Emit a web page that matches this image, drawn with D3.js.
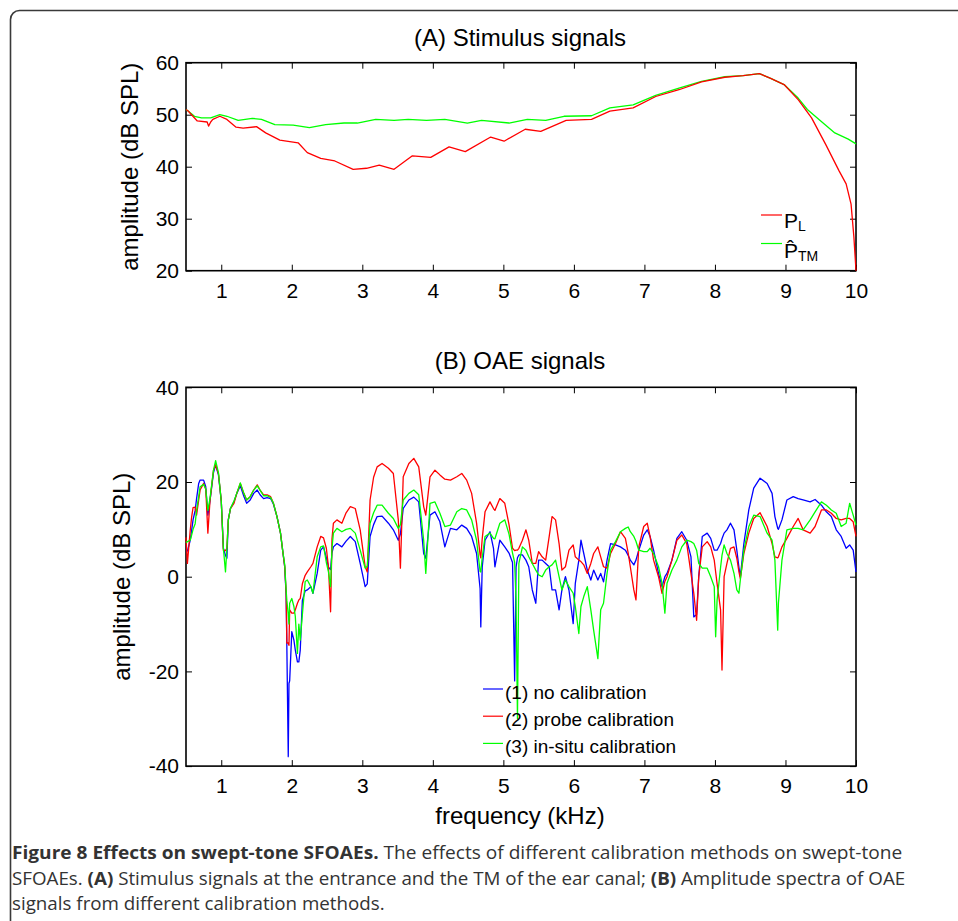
<!DOCTYPE html>
<html>
<head>
<meta charset="utf-8">
<script src="https://cdn.jsdelivr.net/npm/d3@7"></script>
<style>
  html, body { margin: 0; padding: 0; background: #fff; }
  svg { display: block; }
</style>
</head>
<body>
<svg id="chart" width="958" height="921"></svg>
<script>
// ---------------- DATA ----------------
const xTicks = [1, 2, 3, 4, 5, 6, 7, 8, 9, 10];
const yTicksA = [20, 30, 40, 50, 60];
const yTicksB = [-40, -20, 0, 20, 40];

// Panel A: stimulus signals
const freqL = [0.5,0.53,0.66,0.80,0.82,0.85,0.88,0.98,1.08,1.21,1.31,1.50,1.63,1.83,2.09,2.22,2.41,2.61,2.87,3.06,3.24,3.45,3.71,3.97,4.23,4.46,4.82,5.01,5.31,5.53,5.89,6.25,6.51,6.84,7.16,7.49,7.81,8.14,8.40,8.63,8.79,8.98,9.18,9.37,9.57,9.76,9.86,9.93,9.97,10.0];
const ampL  = [51.0,50.7,48.8,48.6,47.8,48.6,49.1,49.7,49.1,47.6,47.4,47.7,46.5,45.1,44.6,42.7,41.6,41.1,39.5,39.7,40.3,39.5,42.1,41.8,43.8,42.9,45.7,44.9,47.2,46.8,48.9,49.1,50.7,51.3,53.5,54.8,56.3,57.2,57.5,57.9,57.0,55.8,52.9,49.4,44.3,39.2,36.7,32.8,26.5,20];
const freqTM = [0.5,0.53,0.62,0.72,0.85,0.98,1.08,1.24,1.44,1.57,1.76,2.02,2.25,2.48,2.74,2.93,3.19,3.45,3.65,3.91,4.17,4.49,4.69,5.08,5.34,5.60,5.86,6.25,6.51,6.84,7.16,7.49,7.81,8.14,8.40,8.63,8.79,8.98,9.18,9.31,9.50,9.70,9.89,10.0];
const ampTM  = [51.0,50.7,49.7,49.4,49.4,50.0,49.7,48.9,49.3,49.1,48.1,48.0,47.5,48.1,48.4,48.4,49.1,48.9,49.1,48.9,49.1,48.4,48.9,48.4,49.1,48.9,49.7,49.8,51.3,51.9,53.7,55.1,56.4,57.3,57.5,57.9,57.0,55.8,53.2,51.0,48.8,46.5,45.3,44.4];

// Panel B: OAE signals
const freqB = [0.50,0.52,0.56,0.58,0.60,0.63,0.65,0.68,0.70,0.75,0.78,0.81,0.84,0.89,0.92,0.96,1.00,1.03,1.06,1.08,1.10,1.13,1.18,1.22,1.27,1.32,1.36,1.41,1.46,1.51,1.55,1.60,1.65,1.70,1.74,1.79,1.84,1.87,1.90,1.92,1.93,1.95,1.96,1.97,2.00,2.03,2.05,2.08,2.10,2.12,2.15,2.19,2.22,2.27,2.30,2.36,2.41,2.45,2.49,2.52,2.55,2.57,2.59,2.64,2.71,2.77,2.83,2.90,2.97,3.04,3.07,3.11,3.16,3.21,3.28,3.37,3.44,3.51,3.54,3.58,3.66,3.73,3.80,3.87,3.90,3.96,4.03,4.10,4.17,4.25,4.34,4.41,4.48,4.55,4.62,4.67,4.68,4.70,4.74,4.81,4.86,4.88,4.95,5.02,5.08,5.13,5.16,5.18,5.20,5.22,5.27,5.32,5.36,5.41,5.46,5.50,5.55,5.60,5.65,5.69,5.74,5.79,5.83,5.88,5.93,5.99,6.02,6.07,6.10,6.14,6.19,6.24,6.28,6.34,6.38,6.42,6.47,6.52,6.59,6.66,6.73,6.77,6.80,6.85,6.88,6.92,6.99,7.04,7.08,7.13,7.20,7.25,7.29,7.32,7.39,7.46,7.53,7.60,7.66,7.70,7.74,7.77,7.82,7.89,7.94,7.99,8.01,8.03,8.08,8.10,8.13,8.17,8.22,8.27,8.31,8.34,8.36,8.41,8.48,8.55,8.64,8.74,8.81,8.85,8.89,8.90,8.95,9.02,9.11,9.18,9.25,9.35,9.42,9.51,9.58,9.65,9.72,9.79,9.86,9.91,9.96,10.0];
const ampNoCal = [5.5,5.4,7.7,9.8,12,14,16.5,19.7,20.4,20.4,19,13,16,22,23.6,21.5,16,6,4.5,3.9,12,14.4,15.8,17.6,19.2,17,15.5,16.2,17.6,18.3,17.3,16.5,16.7,16.5,15.3,12.7,9.2,5.6,2,-4,-14.8,-38,-22.5,-22,-11.6,-13.4,-15.5,-18,-18,-15.5,-5,-3,-2.8,-2.1,-3.5,0.7,5.6,6.3,4,2,1.5,5,6.3,7,6.3,7.5,8.5,7.4,2.8,-2.1,-1.5,8.5,11,12.7,12.8,11.3,9.9,7.7,9,14.4,16.2,16.8,15.8,4.9,3.9,13,13.7,11.6,6.3,10.2,9.9,10.9,10.2,8.5,4.9,-2.5,-10.6,2,7.7,9.5,6,2.1,7.7,6.3,5,3,-22,2,4,4.6,4.6,3.5,2.1,-2.8,-5.6,3.5,3.5,2.8,2.1,-2.8,-2.8,-7,-2.8,0,-2.8,-9.9,-1.4,3.5,7.7,4.9,1.4,-0.7,1.4,-0.7,0.7,-1.1,3.5,7,6.7,6.3,5.6,4.5,3.5,2.5,3.5,5.6,8.8,9.9,8.5,5.6,0.7,-2.1,0,0.7,3.5,8.1,9.5,7.7,4.2,-8.5,-8,0,8.5,9.2,8.1,5.6,5.6,5.6,7,8,9.2,9.9,11.3,9.9,5.6,2,0,7,14.1,18.7,20.8,19.7,17.6,12.7,10.2,10,12,16.2,16.9,16.5,16.2,15.8,16.3,15.1,13.7,12.7,9.9,8.5,6,6.7,5.6,1];
const ampProbe = [8.3,2.8,9.8,12.6,14.6,14.7,13,16.2,18.3,19.7,18.5,9.2,16,22.5,23.6,21.8,16,5.6,5.5,6,12,14.4,15.5,17.6,19.7,17.6,16.2,16.9,18.3,19.4,18.3,17.3,17.3,16.9,15.5,12.7,9.2,5.6,2.1,-3.5,-14,-14,-14.5,-7,-7.7,-7.7,-7,-5.6,-4.9,-4.6,-1.5,0.3,1,2.1,2.8,6.3,8.5,8.2,6,2.1,-7.4,8,11.3,12,11.3,13.5,14.8,14.4,9.9,2.1,1,16.2,21,23.2,23.9,22.9,21.8,12,1.8,21.1,23.9,25,23.2,14.8,13,21.1,22.5,21.5,20.6,20.4,21.1,21.8,20.4,17.6,11.3,4.6,4,8,13.7,15.8,14.4,14,16.5,15.5,11,6,5.5,5.6,5.6,6,7.7,9.9,7.7,2.8,2.8,5.3,4.2,3.5,8.5,12.7,12,7,1.4,2.1,5.6,6.7,4.2,3.5,3.2,2.5,0.7,2.8,4.9,6.3,4.2,2.1,1.8,4.9,7,9.5,8.1,5,2.1,-2.8,-4.9,6.3,10.6,11.3,8.5,3.5,0,-3.5,-1,0,3.5,7.7,8.8,7,0.7,-3.5,-9.2,0,6.3,7.4,6.3,3.5,1,-1.4,-7,-19.7,0,2.8,6,6.3,3.9,1,-0.4,4.9,9.2,12.3,13.5,10.6,7,4.2,4,4.2,6.3,8.1,10.6,12.3,9.9,9.2,10.6,14.1,14.1,13.4,12.3,12,12.3,12.3,11.6,8.5];
const ampInSitu = [7.2,7.4,7.7,8.8,10,11.2,14,16.9,19,19.5,18.5,14,16.5,22.5,24.5,22,16,6,1,6,12,14.4,16,17.6,19.8,17.6,16.2,16.9,18.3,19.2,18.3,17.1,17.1,16.7,15.5,12.7,9.2,5.6,2.5,-3,-5,-8,-10,-5.6,-4.6,-6.3,-8.4,-16.2,-10,-13.4,-8,-1,-0.7,-2.1,-3.5,4.2,6.3,6.5,3,1,-2.1,6,9.2,10.2,9.5,10,10.2,9.2,5.6,1.8,2.2,11.3,13.5,15.1,15.1,13.4,12.3,10.2,11,16.2,17.6,18.3,17.3,7.7,0.7,15.5,15.8,13.4,10.6,10.9,13.7,14.4,14.1,12,7.7,1.1,1,4,8.5,9.2,8.1,8,11.3,12,9,5,3,-5,-30,2.8,6.3,5.6,4.2,2.8,1.4,0.4,0,1.4,2.1,2.5,3.5,0,-2.8,-0.7,-2.1,-3.5,-6.3,-12,-6.3,-4.2,-2.1,-7,-11.3,-17.3,-7,-5.6,0.7,5.6,7.4,9.5,10.2,10.5,9.5,8.5,7.5,5.6,5.3,5.3,6,4.9,2.1,-1.4,-7.7,-1.4,1.4,3.5,6.3,7.7,7.4,7,5.6,2.8,1.8,1.8,0,-2.1,-12.7,-5,2,4.5,6.7,4.9,3.5,0.7,-2.8,-3.5,-0.7,5.6,10.6,13,12.7,9.2,7.7,3.5,-11.3,-5.6,3.5,9.9,10.2,10.2,9.9,12,13.7,15.8,15.1,14.1,13.4,10.6,11.3,15.5,13,10.9];

const legendA = ["P", "P\u0302"];
const legendB = ["(1) no calibration", "(2) probe calibration", "(3) in-situ calibration"];

// ---------------- DRAW ----------------
const svg = d3.select("#chart");
const FONT = "'Liberation Sans', Arial, Helvetica, sans-serif";

// frame
svg.append("rect")
  .attr("x", 10.5).attr("y", 10.5).attr("width", 1000).attr("height", 1000)
  .attr("rx", 9).attr("ry", 9)
  .attr("fill", "none").attr("stroke", "#3a3a3a").attr("stroke-width", 1.6);

const L = 186, R = 856;
const x = d3.scaleLinear().domain([0.5, 10]).range([L, R]);

function panel(top, bottom, yDomain, yTicks, title, titleY, yLabelX) {
  const y = d3.scaleLinear().domain(yDomain).range([bottom, top]);
  const g = svg.append("g");
  const ax = g.append("g").attr("transform", `translate(0,${bottom})`)
    .call(d3.axisBottom(x).tickValues(xTicks).tickFormat(d => String(d)).tickSize(-6).tickPadding(12).tickSizeOuter(0));
  const axT = g.append("g").attr("transform", `translate(0,${top})`)
    .call(d3.axisTop(x).tickValues(xTicks).tickFormat("").tickSize(-6).tickSizeOuter(0));
  const ay = g.append("g").attr("transform", `translate(${L},0)`)
    .call(d3.axisLeft(y).tickValues(yTicks).tickFormat(d => String(d)).tickSize(-6).tickPadding(7).tickSizeOuter(0));
  const ayR = g.append("g").attr("transform", `translate(${R},0)`)
    .call(d3.axisRight(y).tickValues(yTicks).tickFormat("").tickSize(-6).tickSizeOuter(0));
  [ax, axT, ay, ayR].forEach(a => {
    a.select(".domain").remove();
    a.selectAll("line").attr("stroke", "#000").attr("stroke-width", 1);
    a.selectAll("text").attr("fill", "#000").style("font-family", FONT).style("font-size", "21px");
  });
  g.append("rect").attr("x", L).attr("y", top).attr("width", R - L).attr("height", bottom - top)
    .attr("fill", "none").attr("stroke", "#000").attr("stroke-width", 1.6);
  g.append("text").attr("x", (L + R) / 2 - 1).attr("y", titleY).attr("text-anchor", "middle")
    .style("font-family", FONT).style("font-size", "24px").text(title);
  g.append("text").attr("transform", `translate(${yLabelX},${(top + bottom) / 2}) rotate(-90)`)
    .attr("text-anchor", "middle").attr("dy", "0.35em")
    .style("font-family", FONT).style("font-size", "24px").text("amplitude (dB SPL)");
  return { g, y };
}

function drawLine(g, y, fx, fy, color) {
  const line = d3.line().x((d, i) => x(fx[i])).y((d, i) => y(fy[i]));
  g.append("path").datum(fy).attr("d", line)
    .attr("fill", "none").attr("stroke", color).attr("stroke-width", 1.3)
    .attr("stroke-linejoin", "round");
}

// Panel A
const A = panel(62.7, 270.7, [20, 60], yTicksA, "(A) Stimulus signals", 45.5, 130);
drawLine(A.g, A.y, freqTM, ampTM, "#00ff00");
drawLine(A.g, A.y, freqL, ampL, "#ff0000");

// Panel A legend
const legA = A.g.append("g").style("font-family", FONT);
legA.append("line").attr("x1", 761).attr("x2", 782).attr("y1", 215).attr("y2", 215).attr("stroke", "#ff0000").attr("stroke-width", 1.2);
const tL = legA.append("text").attr("x", 784).attr("y", 228).style("font-size", "21px");
tL.append("tspan").text(legendA[0]);
tL.append("tspan").attr("dy", 3).style("font-size", "14px").text("L");
legA.append("line").attr("x1", 761).attr("x2", 782).attr("y1", 243.5).attr("y2", 243.5).attr("stroke", "#00ff00").attr("stroke-width", 1.2);
const tTM = legA.append("text").attr("x", 784).attr("y", 258).style("font-size", "21px");
tTM.append("tspan").text(legendA[1]);
tTM.append("tspan").attr("dy", 3).style("font-size", "14px").text("TM");

// Panel B
const B = panel(387.3, 766.1, [-40, 40], yTicksB, "(B) OAE signals", 368.5, 122);
drawLine(B.g, B.y, freqB, ampNoCal, "#0000ff");
drawLine(B.g, B.y, freqB, ampProbe, "#ff0000");
drawLine(B.g, B.y, freqB, ampInSitu, "#00ff00");

// x label
svg.append("text").attr("x", (L + R) / 2 - 1).attr("y", 823.5).attr("text-anchor", "middle")
  .style("font-family", FONT).style("font-size", "24px").text("frequency (kHz)");

// Panel B legend
const colorsB = ["#0000ff", "#ff0000", "#00ff00"];
const legB = B.g.append("g").style("font-family", FONT);
legendB.forEach((lab, i) => {
  const yy = 689 + i * 27.2;
  legB.append("line").attr("x1", 483).attr("x2", 503).attr("y1", yy).attr("y2", yy)
    .attr("stroke", colorsB[i]).attr("stroke-width", 1.2);
  legB.append("text").attr("x", 505).attr("y", yy + 9.5).style("font-size", "19px").text(lab);
});

// caption: each line is one text; scaled horizontally to fit the reference width
const capFont = "'Open Sans', 'Noto Sans', sans-serif";
const capLines = [
  { y: 859, w: 891, parts: [["Figure 8 Effects on swept-tone SFOAEs.", true], [" The effects of different calibration methods on swept-tone", false]] },
  { y: 884.5, w: 894, parts: [["SFOAEs. ", false], ["(A)", true], [" Stimulus signals at the entrance and the TM of the ear canal; ", false], ["(B)", true], [" Amplitude spectra of OAE", false]] },
  { y: 910, w: 373, parts: [["signals from different calibration methods.", false]] }
];
capLines.forEach(cl => {
  const t = svg.append("text").attr("x", 0).attr("y", 0)
    .style("font-family", capFont).style("font-size", "18px").attr("fill", "#333");
  cl.parts.forEach(([s, b]) => t.append("tspan").style("font-weight", b ? "bold" : "normal").text(s));
  const nat = t.node().getComputedTextLength();
  const sx = nat > 0 ? cl.w / nat : 1;
  t.attr("transform", `translate(12,${cl.y}) scale(${sx},1)`);
});
</script>
</body>
</html>
